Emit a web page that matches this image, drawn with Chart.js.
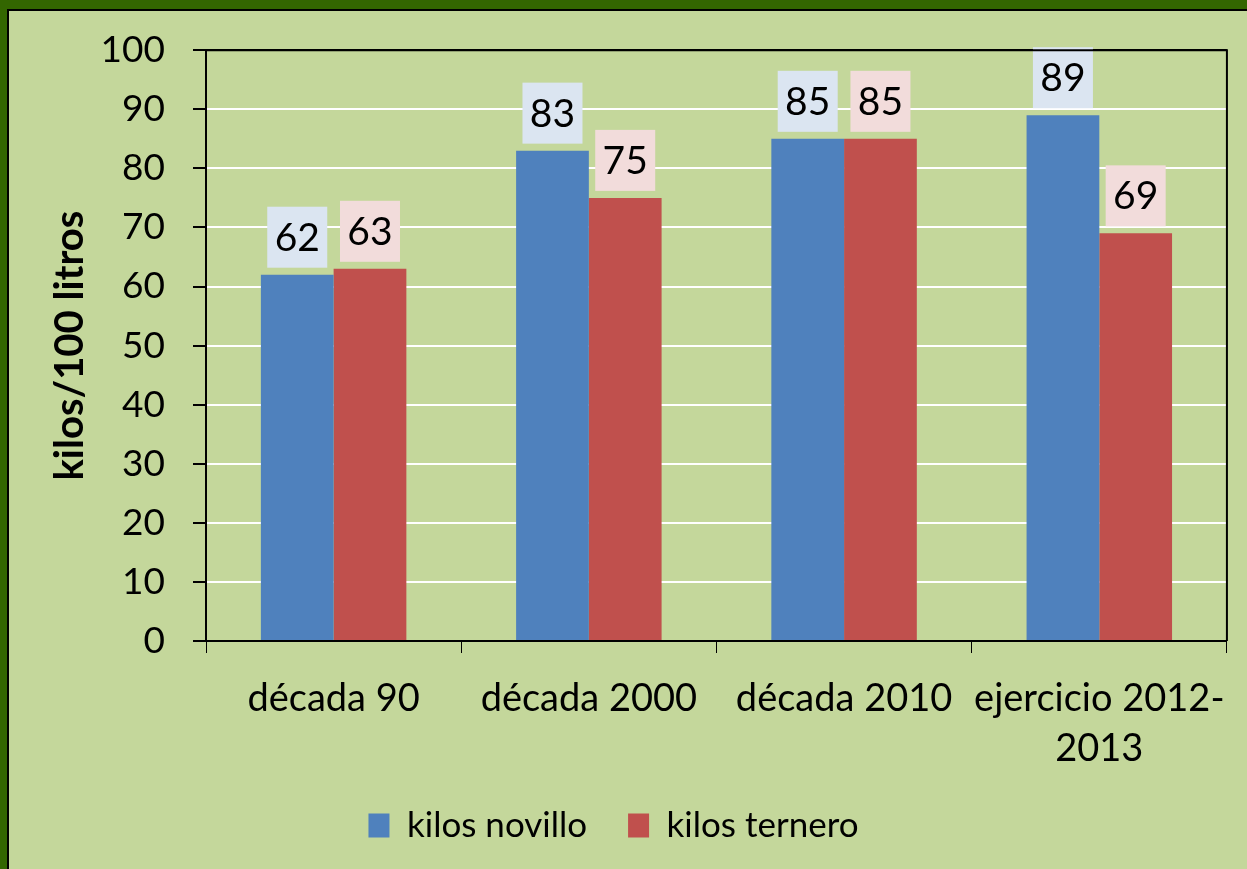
<!DOCTYPE html>
<html>
<head>
<meta charset="utf-8">
<script src="https://cdn.jsdelivr.net/npm/chart.js@4/dist/chart.umd.min.js"></script>
<style>
  body { margin: 0; overflow: hidden; }
  #frame { position: absolute; left: 0; top: 0; width: 1247px; height: 869px; background: #336600; }
  #inner { position: absolute; left: 7px; top: 9px; right: 0; bottom: 0; background: #c4d79b;
           border-top: 2px solid #000; border-left: 2px solid #000; }
  #chart { position: absolute; left: 0; top: 0; }
</style>
</head>
<body>
<div id="frame"><div id="inner"></div></div>
<canvas id="chart" width="1247" height="869"></canvas>
<script>
// Categories and values
const categories = ["década 90", "década 2000", "década 2010", ["ejercicio 2012-", "2013"]];
const novillo = [62, 83, 85, 89];
const ternero = [63, 75, 85, 69];
const seriesNames = ["kilos novillo", "kilos ternero"];
const yMin = 0, yMax = 100, yStep = 10;

const FONT = "Lato";

// value labels in little coloured boxes above each bar
const valueBoxes = {
  id: "valueBoxes",
  afterDatasetsDraw(chart) {
    const ctx = chart.ctx;
    ctx.save();
    chart.data.datasets.forEach((ds, i) => {
      chart.getDatasetMeta(i).data.forEach((bar, j) => {
        const w = 60, h = 61;
        const x = bar.x - w / 2;
        const y = bar.y - 7 - h;
        ctx.fillStyle = ds.labelBg;
        ctx.fillRect(x, y, w, h);
        ctx.fillStyle = "#000";
        ctx.font = "39px " + FONT;
        ctx.textAlign = "center";
        ctx.textBaseline = "middle";
        ctx.fillText(ds.data[j], bar.x, y + h / 2 + 1);
      });
    });
    ctx.restore();
  }
};

// black line on top and right of the plot area
const plotFrame = {
  id: "plotFrame",
  afterDraw(chart) {
    const { ctx, chartArea: a } = chart;
    ctx.save();
    ctx.strokeStyle = "#000";
    ctx.lineWidth = 2;
    ctx.beginPath();
    ctx.moveTo(a.left, a.top);
    ctx.lineTo(a.right, a.top);
    ctx.lineTo(a.right, a.bottom);
    ctx.stroke();
    ctx.restore();
  }
};

new Chart(document.getElementById("chart"), {
  type: "bar",
  data: {
    labels: categories,
    datasets: [
      { label: seriesNames[0], data: novillo, backgroundColor: "#4f81bd", labelBg: "#dbe5f1" },
      { label: seriesNames[1], data: ternero, backgroundColor: "#c0504d", labelBg: "#f2dcdb" }
    ]
  },
  options: {
    responsive: false,
    animation: false,
    layout: { padding: { top: 49, right: 20, left: 0, bottom: 16 } },
    datasets: { bar: { categoryPercentage: 0.57, barPercentage: 1 } },
    plugins: {
      tooltip: { enabled: false },
      legend: {
        position: "bottom",
        labels: {
          boxWidth: 21, boxHeight: 24, padding: 41,
          color: "#000",
          font: { family: FONT, size: 35 }
        }
      }
    },
    scales: {
      x: {
        grid: { drawOnChartArea: false, tickLength: 12, tickColor: "#000", offset: true },
        border: { color: "#000", width: 2 },
        ticks: {
          color: "#000", font: { family: FONT, size: 38, lineHeight: 1.33 },
          padding: 20, maxRotation: 0, minRotation: 0, autoSkip: false
        },
        afterFit(scale) {
          const legendH = scale.chart.legend ? scale.chart.legend.height : 0;
          scale.height = 869 - 641 - legendH - 16;
        }
      },
      y: {
        min: yMin, max: yMax,
        ticks: { stepSize: yStep, color: "#000", font: { family: FONT, size: 37 }, padding: 28 },
        grid: {
          color: (c) => (c.tick && (c.tick.value === yMin || c.tick.value === yMax)) ? "#000" : "#ffffff",
          lineWidth: 2, tickLength: 13, tickColor: "#000"
        },
        border: { color: "#000", width: 2 },
        title: {
          display: true, text: "kilos/100 litros", color: "#000",
          font: { family: FONT, size: 40, weight: "bold" },
          padding: { top: 46, bottom: 0 }
        },
        afterFit(scale) { scale.width = 206; }
      }
    }
  },
  plugins: [valueBoxes, plotFrame]
});
</script>
</body>
</html>
